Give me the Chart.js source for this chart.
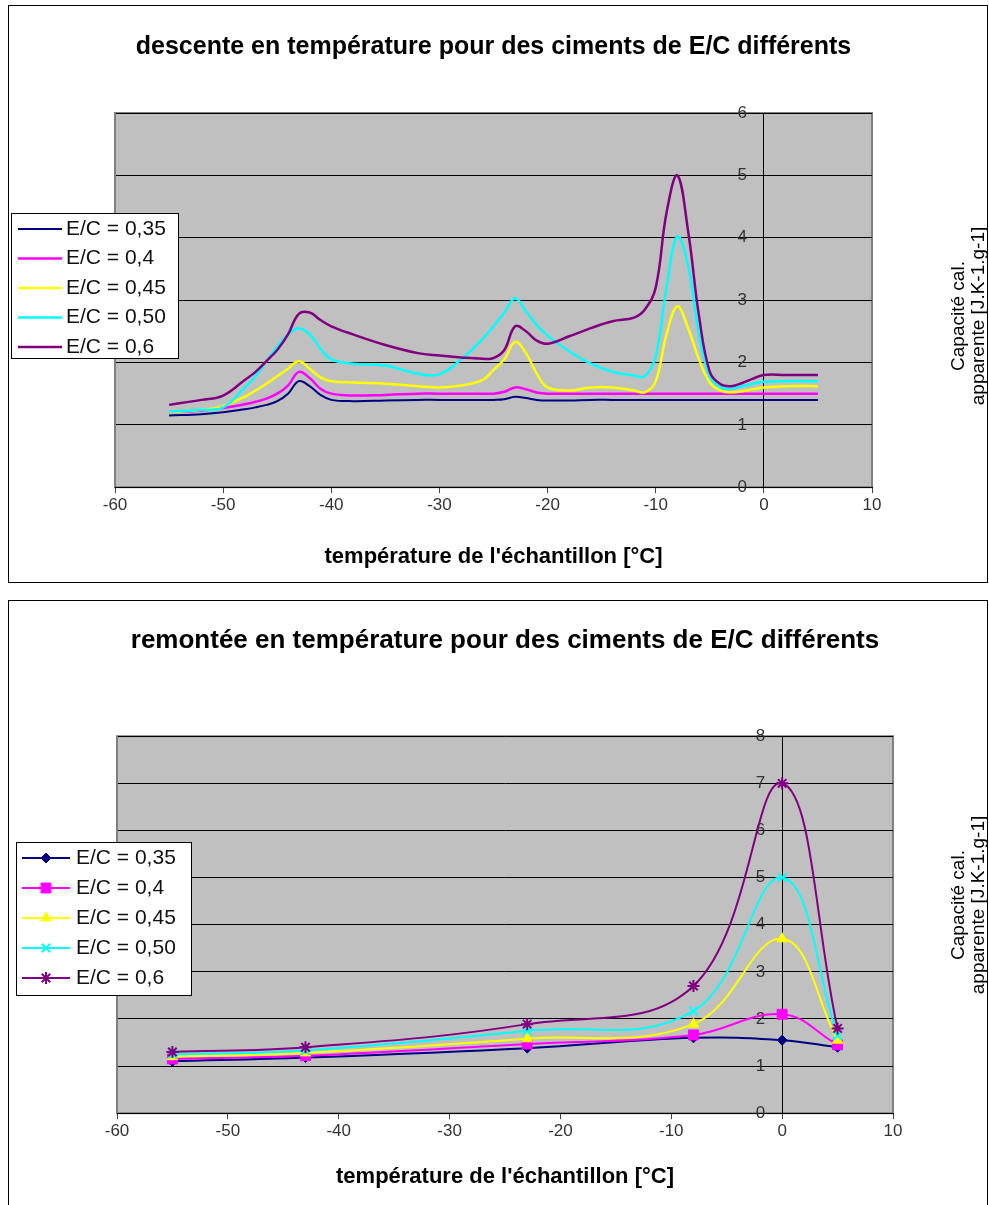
<!DOCTYPE html>
<html>
<head>
<meta charset="utf-8">
<script src="https://cdn.jsdelivr.net/npm/chart.js@4.4.1/dist/chart.umd.min.js"></script>
<style>
html, body { margin: 0; padding: 0; background: #fff; }
body { width: 989px; height: 1205px; position: relative; overflow: hidden; }
.frame { position: absolute; left: 8px; width: 978px; border: 1px solid #000; background: #fff; }
#f1 { top: 5px; height: 576px; }
#f2 { top: 600px; height: 620px; border-bottom: none; }
canvas { display: block; }
</style>
</head>
<body>
<div class="frame" id="f1"><canvas id="canvas-descente" width="978" height="576"></canvas></div>
<div class="frame" id="f2"><canvas id="canvas-remontee" width="978" height="604"></canvas></div>
<script>
"use strict";

// Data
// =============================================================
var seriesLabels = ['E/C = 0,35', 'E/C = 0,4', 'E/C = 0,45', 'E/C = 0,50', 'E/C = 0,6'];
var seriesColors = ['#000080', '#FF00FF', '#FFFF00', '#00FFFF', '#800080'];

var xTicks = [-60, -50, -40, -30, -20, -10, 0, 10];
var yTicksDescente = [0, 1, 2, 3, 4, 5, 6];
var yTicksRemontee = [0, 1, 2, 3, 4, 5, 6, 7, 8];

// descente en température
var tempDescente = [-55, -52, -50, -48, -47, -46, -45, -44, -43, -42, -41, -40, -38, -35, -32, -30, -28, -26, -25, -24, -23, -22, -21, -20, -18, -16, -14, -12, -11, -10, -9, -8, -7, -6, -5, -4, -3, -2, -1, 0, 2, 5];
var desc035 = [1.15, 1.17, 1.20, 1.25, 1.28, 1.32, 1.38, 1.50, 1.70, 1.62, 1.48, 1.40, 1.38, 1.39, 1.40, 1.40, 1.40, 1.40, 1.40, 1.41, 1.45, 1.43, 1.40, 1.39, 1.39, 1.40, 1.40, 1.40, 1.40, 1.40, 1.40, 1.40, 1.40, 1.40, 1.40, 1.40, 1.40, 1.40, 1.40, 1.40, 1.40, 1.40];
var desc040 = [1.20, 1.23, 1.27, 1.33, 1.37, 1.42, 1.50, 1.63, 1.85, 1.75, 1.58, 1.50, 1.47, 1.48, 1.50, 1.50, 1.50, 1.50, 1.50, 1.53, 1.60, 1.57, 1.52, 1.50, 1.50, 1.50, 1.50, 1.50, 1.50, 1.50, 1.50, 1.50, 1.50, 1.50, 1.50, 1.50, 1.50, 1.50, 1.50, 1.50, 1.50, 1.50];
var desc045 = [1.20, 1.24, 1.30, 1.45, 1.55, 1.66, 1.78, 1.90, 2.02, 1.90, 1.76, 1.70, 1.68, 1.66, 1.62, 1.60, 1.63, 1.72, 1.88, 2.05, 2.33, 2.15, 1.82, 1.60, 1.55, 1.60, 1.60, 1.55, 1.52, 1.70, 2.45, 2.90, 2.55, 2.05, 1.68, 1.55, 1.52, 1.54, 1.57, 1.60, 1.62, 1.62];
var desc050 = [1.21, 1.24, 1.28, 1.60, 1.78, 2.02, 2.25, 2.45, 2.55, 2.45, 2.22, 2.05, 1.98, 1.95, 1.82, 1.81, 2.05, 2.38, 2.58, 2.80, 3.03, 2.82, 2.60, 2.43, 2.18, 1.98, 1.85, 1.79, 1.78, 2.10, 3.20, 4.02, 3.55, 2.45, 1.78, 1.60, 1.58, 1.62, 1.66, 1.69, 1.70, 1.70];
var desc060 = [1.32, 1.40, 1.47, 1.72, 1.85, 2.02, 2.20, 2.45, 2.78, 2.80, 2.68, 2.58, 2.45, 2.28, 2.15, 2.11, 2.08, 2.06, 2.07, 2.20, 2.58, 2.50, 2.35, 2.30, 2.42, 2.55, 2.66, 2.72, 2.85, 3.20, 4.40, 5.00, 4.10, 2.75, 1.85, 1.65, 1.62, 1.67, 1.74, 1.80, 1.80, 1.80];

// remontée en température
var tempRemontee = [-55, -43, -23, -8, 0, 5];
var rem035 = [1.10, 1.18, 1.38, 1.60, 1.55, 1.40];
var rem040 = [1.15, 1.22, 1.47, 1.66, 2.10, 1.45];
var rem045 = [1.20, 1.28, 1.58, 1.89, 3.70, 1.55];
var rem050 = [1.25, 1.33, 1.75, 2.17, 5.00, 1.65];
var rem060 = [1.30, 1.40, 1.89, 2.70, 7.00, 1.80];

var markerStyles = ['rectRot', 'rect', 'triangle', 'crossRot', 'star'];
var markerRadius = [5, 7, 6, 6, 6];

Chart.defaults.font.family = 'Arial, "Liberation Sans", sans-serif';
Chart.defaults.color = '#333';

// Plugins
// =============================================================
var plotBackground = {
  id: 'plotBackground',
  beforeDraw: function (chart) {
    var a = chart.chartArea;
    var ctx = chart.ctx;
    ctx.save();
    ctx.fillStyle = '#c0c0c0';
    ctx.fillRect(a.left, a.top, a.right - a.left, a.bottom - a.top);
    ctx.strokeStyle = '#808080';
    ctx.lineWidth = 2;
    ctx.strokeRect(a.left, a.top, a.right - a.left, a.bottom - a.top);
    ctx.restore();
  }
};

// the value axis crosses the temperature axis at 0 °C
// (left edge moved too, labels are clipped to the scale box)
var crossAxis = {
  id: 'crossAxis',
  afterLayout: function (chart) {
    var px = chart.scales.x.getPixelForValue(0);
    chart.scales.y.left = px - 80;
    chart.scales.y.right = px;
    chart.scales.y.width = 80;
  }
};

var boxLegend = {
  id: 'boxLegend',
  afterDraw: function (chart, args, opts) {
    var ctx = chart.ctx;
    ctx.save();
    ctx.fillStyle = '#fff';
    ctx.fillRect(opts.x, opts.y, opts.w, opts.h);
    ctx.strokeStyle = '#000';
    ctx.lineWidth = 1;
    ctx.strokeRect(opts.x + 0.5, opts.y + 0.5, opts.w, opts.h);
    ctx.font = opts.font;
    ctx.textBaseline = 'middle';
    chart.data.datasets.forEach(function (ds, i) {
      var y = opts.y + opts.first + i * opts.step;
      ctx.strokeStyle = ds.borderColor;
      ctx.lineWidth = ds.borderWidth;
      ctx.beginPath();
      ctx.moveTo(opts.lineX1, y);
      ctx.lineTo(opts.lineX2, y);
      ctx.stroke();
      if (ds.pointRadius > 0) {
        ctx.fillStyle = ds.pointBackgroundColor;
        ctx.strokeStyle = ds.pointBorderColor;
        ctx.lineWidth = ds.pointBorderWidth;
        Chart.helpers.drawPoint(ctx, {
          pointStyle: ds.pointStyle,
          radius: ds.pointRadius,
          borderWidth: ds.pointBorderWidth,
          rotation: 0
        }, (opts.lineX1 + opts.lineX2) / 2, y);
      }
      ctx.fillStyle = '#111';
      ctx.fillText(ds.label, opts.textX, y);
    });
    ctx.restore();
  }
};

var sideTitle = {
  id: 'sideTitle',
  afterDraw: function (chart, args, opts) {
    var ctx = chart.ctx;
    ctx.save();
    ctx.font = opts.font;
    ctx.fillStyle = '#000';
    ctx.textAlign = 'center';
    ctx.textBaseline = 'middle';
    opts.lines.forEach(function (t, i) {
      ctx.save();
      ctx.translate(opts.x + i * opts.step, opts.y);
      ctx.rotate(-Math.PI / 2);
      ctx.fillText(t, 0, 0);
      ctx.restore();
    });
    ctx.restore();
  }
};

function tickSetter(values) {
  return function (scale) {
    scale.ticks = values.map(function (v) { return { value: v }; });
  };
}

function points(xs, ys) {
  return xs.map(function (x, i) { return { x: x, y: ys[i] }; });
}

function scalesFor(yMax, yTicks, titlePad) {
  return {
    x: {
      type: 'linear',
      min: -60,
      max: 10,
      afterBuildTicks: tickSetter(xTicks),
      grid: { display: true, drawOnChartArea: false, drawTicks: true, tickLength: 6, color: '#444' },
      border: { display: true, color: '#000', width: 1 },
      ticks: { color: '#333', font: { size: 17 }, padding: 2, maxRotation: 0, autoSkip: false },
      title: {
        display: true,
        text: "température de l'échantillon [°C]",
        color: '#000',
        font: { size: 22, weight: 'bold' },
        padding: { top: titlePad, bottom: 0 }
      }
    },
    y: {
      type: 'linear',
      min: 0,
      max: yMax,
      position: 'left',
      afterFit: function (scale) { scale.width = 0; },
      afterBuildTicks: tickSetter(yTicks),
      grid: { color: '#000', lineWidth: 1, drawTicks: true, tickLength: 10 },
      border: { display: true, color: '#000', width: 1 },
      ticks: { color: '#333', font: { size: 17 }, padding: 7, autoSkip: false }
    }
  };
}

// descente chart
// =============================================================
var descValues = [desc035, desc040, desc045, desc050, desc060];
var descChart = new Chart(document.getElementById('canvas-descente'), {
  type: 'line',
  data: {
    datasets: descValues.map(function (vals, i) {
      return {
        label: seriesLabels[i],
        data: points(tempDescente, vals),
        borderColor: seriesColors[i],
        borderWidth: i === 0 ? 2 : 2.5,
        pointRadius: 0,
        tension: 0.4,
        order: 4 - i
      };
    })
  },
  options: {
    responsive: false,
    animation: false,
    devicePixelRatio: 1,
    layout: { padding: { left: 106, right: 115, top: 0, bottom: 12 } },
    scales: scalesFor(6, yTicksDescente, 26),
    plugins: {
      legend: { display: false },
      tooltip: { enabled: false },
      title: {
        display: true,
        text: 'descente en température pour des ciments de E/C différents',
        color: '#000',
        font: { size: 25, weight: 'bold' },
        padding: { top: 26, bottom: 51 }
      },
      boxLegend: { x: 2, y: 207, w: 167, h: 145, first: 16, step: 29.5, lineX1: 9, lineX2: 53, textX: 57, font: '21px Arial, "Liberation Sans", sans-serif' },
      sideTitle: { x: 950, y: 310, step: 20, lines: ['Capacité cal.', 'apparente [J.K-1.g-1]'], font: '19px Arial, "Liberation Sans", sans-serif' }
    }
  },
  plugins: [plotBackground, crossAxis, boxLegend, sideTitle]
});

// remontee chart
// =============================================================
var remValues = [rem035, rem040, rem045, rem050, rem060];
var remChart = new Chart(document.getElementById('canvas-remontee'), {
  type: 'line',
  data: {
    datasets: remValues.map(function (vals, i) {
      return {
        label: seriesLabels[i],
        data: points(tempRemontee, vals),
        borderColor: seriesColors[i],
        borderWidth: 2,
        pointStyle: markerStyles[i],
        pointRadius: markerRadius[i],
        pointBackgroundColor: seriesColors[i],
        pointBorderColor: seriesColors[i],
        pointBorderWidth: i >= 3 ? 2 : 1,
        tension: 0.4,
        order: 4 - i
      };
    })
  },
  options: {
    responsive: false,
    animation: false,
    devicePixelRatio: 1,
    layout: { padding: { left: 108, right: 94, top: 0, bottom: 15 } },
    scales: scalesFor(8, yTicksRemontee, 20),
    plugins: {
      legend: { display: false },
      tooltip: { enabled: false },
      title: {
        display: true,
        text: 'remontée en température pour des ciments de E/C différents',
        color: '#000',
        font: { size: 26, weight: 'bold' },
        padding: { top: 24, bottom: 80 }
      },
      boxLegend: { x: 7, y: 241, w: 175, h: 153, first: 16, step: 30, lineX1: 13, lineX2: 61, textX: 67, font: '21px Arial, "Liberation Sans", sans-serif' },
      sideTitle: { x: 950, y: 304, step: 20, lines: ['Capacité cal.', 'apparente [J.K-1.g-1]'], font: '19px Arial, "Liberation Sans", sans-serif' }
    }
  },
  plugins: [plotBackground, crossAxis, boxLegend, sideTitle]
});
</script>
</body>
</html>
